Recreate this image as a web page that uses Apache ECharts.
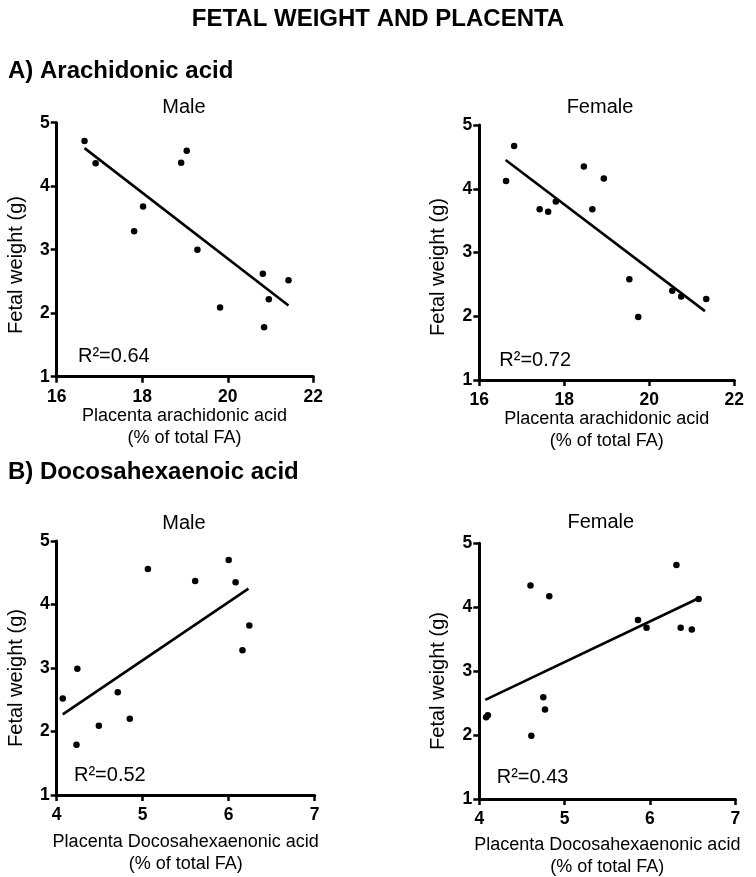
<!DOCTYPE html>
<html>
<head>
<meta charset="utf-8">
<script src="https://cdn.jsdelivr.net/npm/echarts@6/dist/echarts.min.js"></script>
<style>
html,body{margin:0;padding:0;background:#fff;}
#chart{width:756px;height:877px;}
</style>
</head>
<body>
<div id="chart"></div>
<script>
// ---- Data ----
const aMaleX = [16.65, 16.91, 17.81, 18.02, 18.91, 19.04, 19.29, 19.82, 20.82, 20.85, 20.96, 21.42];
const aMaleY = [4.71, 4.36, 3.29, 3.68, 4.37, 4.56, 3.00, 2.09, 2.62, 1.78, 2.22, 2.52];
const aMaleFitX = [16.65, 21.42];
const aMaleFitY = [4.60, 2.12];

const aFemaleX = [16.63, 16.82, 17.42, 17.62, 17.80, 18.46, 18.66, 18.93, 19.53, 19.74, 20.54, 20.75, 21.34];
const aFemaleY = [4.12, 4.67, 3.68, 3.64, 3.80, 4.35, 3.68, 4.16, 2.58, 1.99, 2.40, 2.31, 2.27];
const aFemaleFitX = [16.62, 21.31];
const aFemaleFitY = [4.45, 2.08];

const bMaleX = [4.07, 4.24, 4.23, 4.49, 4.71, 4.85, 5.06, 5.61, 6.00, 6.08, 6.16, 6.24];
const bMaleY = [2.52, 2.99, 1.79, 2.09, 2.62, 2.20, 4.56, 4.37, 4.70, 4.35, 3.28, 3.67];
const bMaleFitX = [4.07, 6.23];
const bMaleFitY = [2.27, 4.25];

const bFemaleX = [4.08, 4.10, 4.60, 4.61, 4.75, 4.77, 4.82, 5.86, 5.96, 6.31, 6.36, 6.49, 6.57];
const bFemaleY = [2.28, 2.31, 4.34, 1.99, 2.59, 2.40, 4.17, 3.80, 3.68, 4.66, 3.68, 3.65, 4.13];
const bFemaleFitX = [4.07, 6.57];
const bFemaleFitY = [2.55, 4.14];

const aXRange = [16, 22];
const aXStep = 2;
const bXRange = [4, 7];
const bXStep = 1;
const yRange = [1, 5];
const yStep = 1;

const rSquared = ['R²=0.64', 'R²=0.72', 'R²=0.52', 'R²=0.43'];
const panelNames = ['Male', 'Female', 'Male', 'Female'];
const mainTitle = 'FETAL WEIGHT AND PLACENTA';
const sectionTitles = ['A) Arachidonic acid', 'B) Docosahexaenoic acid'];
const yName = 'Fetal weight (g)';
const xNames = ['Placenta arachidonic acid\n(% of total FA)', 'Placenta Docosahexaenonic acid\n(% of total FA)'];

// ---- Build ----
const FONT = '"Liberation Sans", Arial, Helvetica, sans-serif';
const zip = (xs, ys) => xs.map((x, i) => [x, ys[i]]);

const grids = [
  {left: 56.7, top: 122.7, width: 256.6, height: 254},
  {left: 479.3, top: 125, width: 255, height: 255},
  {left: 56.7, top: 541, width: 258, height: 254},
  {left: 479.3, top: 543.3, width: 256, height: 255.7}
];

const axisCommon = {
  axisLine: {show: true, lineStyle: {color: '#000', width: 3}},
  axisTick: {show: true, length: 6, lineStyle: {color: '#000', width: 2.5}},
  splitLine: {show: false},
  axisLabel: {color: '#000', fontFamily: FONT, fontWeight: 'bold', fontSize: 17.5}
};

const xAxes = grids.map((g, i) => {
  const r = i < 2 ? aXRange : bXRange;
  const s = i < 2 ? aXStep : bXStep;
  return Object.assign({}, axisCommon, {
    type: 'value', gridIndex: i, min: r[0], max: r[1], interval: s,
    axisLabel: Object.assign({}, axisCommon.axisLabel, {margin: 11})
  });
});
const yAxes = grids.map((g, i) => Object.assign({}, axisCommon, {
  type: 'value', gridIndex: i, min: yRange[0], max: yRange[1], interval: yStep,
  axisLabel: Object.assign({}, axisCommon.axisLabel, {margin: 7})
}));

const scatterSets = [zip(aMaleX, aMaleY), zip(aFemaleX, aFemaleY), zip(bMaleX, bMaleY), zip(bFemaleX, bFemaleY)];
const fitSets = [zip(aMaleFitX, aMaleFitY), zip(aFemaleFitX, aFemaleFitY), zip(bMaleFitX, bMaleFitY), zip(bFemaleFitX, bFemaleFitY)];

const series = [];
scatterSets.forEach((d, i) => {
  series.push({
    type: 'line', xAxisIndex: i, yAxisIndex: i, data: fitSets[i],
    symbol: 'none', lineStyle: {color: '#000', width: 2.6}, silent: true
  });
  series.push({
    type: 'scatter', xAxisIndex: i, yAxisIndex: i, data: d,
    symbol: 'circle', symbolSize: 6.5, itemStyle: {color: '#000', opacity: 1}, silent: true
  });
});

function txt(x, y, text, opts) {
  return {
    type: 'text', x: x, y: y, rotation: opts.rotation || 0, silent: true,
    style: Object.assign({
      text: text, fill: '#000', fontFamily: FONT, fontSize: 20, fontWeight: 'normal',
      align: 'center', verticalAlign: 'middle'
    }, opts.style || {})
  };
}

const panelTitlePos = [[184, 107], [600, 107], [184, 523], [600.8, 522.7]];
const rPos = [[78, 356.7], [499.3, 360], [74, 775.7], [496.7, 777.7]];
const yNamePos = [[16, 265], [438.6, 267], [16, 678], [438.6, 681]];
const xNamePos = [[184.5, 426.7], [606.8, 430], [185.7, 853.5], [607.3, 856]];

const graphics = [];
graphics.push(txt(378, 19, mainTitle, {style: {fontSize: 24, fontWeight: 'bold'}}));
graphics.push(txt(8, 71, sectionTitles[0], {style: {fontSize: 24, fontWeight: 'bold', align: 'left'}}));
graphics.push(txt(8, 472, sectionTitles[1], {style: {fontSize: 24, fontWeight: 'bold', align: 'left'}}));
for (let i = 0; i < 4; i++) {
  graphics.push(txt(panelTitlePos[i][0], panelTitlePos[i][1], panelNames[i], {}));
  graphics.push(txt(rPos[i][0], rPos[i][1], rSquared[i], {style: {align: 'left'}}));
  graphics.push(txt(yNamePos[i][0], yNamePos[i][1], yName, {rotation: Math.PI / 2}));
  graphics.push(txt(xNamePos[i][0], xNamePos[i][1], xNames[i < 2 ? 0 : 1], {style: {fontSize: 18, lineHeight: 22}}));
}

const chart = echarts.init(document.getElementById('chart'), null, {renderer: 'canvas'});
chart.setOption({
  backgroundColor: '#fff',
  animation: false,
  grid: grids,
  xAxis: xAxes,
  yAxis: yAxes,
  series: series,
  graphic: graphics
});
</script>
</body>
</html>
